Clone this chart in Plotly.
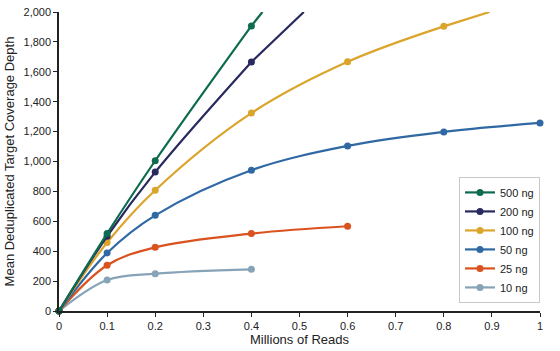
import plotly.graph_objects as go

reads = [0, 0.1, 0.2, 0.4, 0.6, 0.8, 1.0]

series_names = ["500 ng", "200 ng", "100 ng", "50 ng", "25 ng", "10 ng"]
depth_500 = [0, 518, 1005, 1907]
depth_200 = [0, 500, 929, 1666]
depth_100 = [0, 458, 808, 1324, 1667, 1904]
depth_50 = [0, 388, 640, 942, 1104, 1198, 1258]
depth_25 = [0, 306, 426, 518, 567]
depth_10 = [0, 207, 250, 279]

# where the fitted curve leaves the top of the chart (x at depth 2000)
ext_x = {"500 ng": 0.423, "200 ng": 0.509, "100 ng": 0.895}
ext_y = 2000

colors = ["#0e6b50", "#28295f", "#dba42b", "#2f68a3", "#d9521f", "#87a3b8"]
all_depths = [depth_500, depth_200, depth_100, depth_50, depth_25, depth_10]

fig = go.Figure()

for name, depth, col in zip(series_names, all_depths, colors):
    xs = reads[:len(depth)]
    if name in ext_x:
        fig.add_trace(go.Scatter(
            x=[xs[-1], ext_x[name]], y=[depth[-1], ext_y],
            mode="lines", line=dict(color=col, width=2.2),
            showlegend=False, hoverinfo="skip", cliponaxis=False))

for name, depth, col in reversed(list(zip(series_names, all_depths, colors))):
    xs = reads[:len(depth)]
    fig.add_trace(go.Scatter(
        x=xs, y=depth, name=name, mode="lines+markers",
        line=dict(color=col, width=2.2, shape="spline"),
        marker=dict(color=col, size=7),
        cliponaxis=False))

fig.update_layout(
    width=560, height=351,
    margin=dict(l=59, r=20, t=12, b=40),
    paper_bgcolor="white", plot_bgcolor="white",
    font=dict(family="Liberation Sans, Arial, sans-serif", size=11, color="#222"),
    legend=dict(
        x=1, y=0.027, xanchor="right", yanchor="bottom",
        bordercolor="#c8c8c8", borderwidth=1, bgcolor="white",
        traceorder="reversed", font=dict(size=11),
        tracegroupgap=0, itemwidth=30,
    ),
    xaxis=dict(
        range=[0, 1], tickvals=[0, 0.1, 0.2, 0.3, 0.4, 0.5, 0.6, 0.7, 0.8, 0.9, 1],
        ticktext=["0", "0.1", "0.2", "0.3", "0.4", "0.5", "0.6", "0.7", "0.8", "0.9", "1"],
        showgrid=False, zeroline=False, showline=True, linecolor="#222", linewidth=1.5,
        ticks="outside", ticklen=4, tickcolor="#222", automargin=False,
        title=dict(text="Millions of Reads", font=dict(size=13), standoff=4),
    ),
    yaxis=dict(
        range=[0, 2000], tickvals=list(range(0, 2001, 200)), tickformat=",d",
        showgrid=False, zeroline=False, showline=True, linecolor="#222", linewidth=1.5,
        ticks="outside", ticklen=4, tickcolor="#222", automargin=False,
        title=dict(text="Mean Deduplicated Target Coverage Depth", font=dict(size=13), standoff=6),
    ),
)

fig.write_html("out.html")
